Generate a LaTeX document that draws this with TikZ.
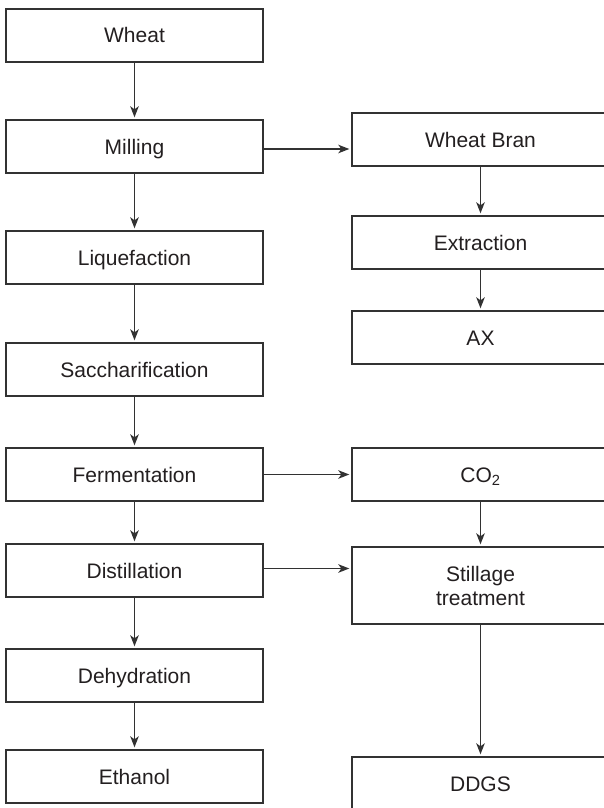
\documentclass[tikz,border=0pt]{standalone}
\usepackage{fontspec}
\setmainfont{Liberation Sans}
\usetikzlibrary{arrows.meta}
\definecolor{ink}{RGB}{35,31,32}
\definecolor{rule}{RGB}{50,50,50}
\begin{document}
\begin{tikzpicture}[x=1pt,y=-1pt,
  box/.style={draw=rule, line width=1.4pt, fill=white, minimum width=257pt,
    minimum height=53pt, inner sep=0pt, text=ink,
    font=\fontsize{21}{24}\selectfont, text height=15pt, text depth=0pt},
  tallbox/.style={draw=rule, line width=1.4pt, fill=white, minimum width=257pt,
    minimum height=77pt, inner sep=0pt, text=ink, align=center,
    font=\fontsize{21}{24}\selectfont},
  arr/.style={draw=rule, line width=1.4pt, shorten >=2pt,
    -{Stealth[length=11pt,width=8.5pt,inset=3pt]}}]
\useasboundingbox (0,0) rectangle (603,808);
\fill[white] (0,0) rectangle (603,808);

% main process line
\node[box] (wheat) at (134.5,35.5)  {Wheat};
\node[box] (mill)  at (134.5,146.5) {Milling};
\node[box] (liq)   at (134.5,257.5) {Liquefaction};
\node[box] (sacc)  at (134.5,369.5) {Saccharification};
\node[box] (ferm)  at (134.5,474.5) {Fermentation};
\node[box] (dist)  at (134.5,570.5) {Distillation};
\node[box] (dehy)  at (134.5,675.5) {Dehydration};
\node[box] (eth)   at (134.5,776.5) {Ethanol};

% co-products
\node[box] (bran)  at (480.5,139.5) {Wheat Bran};
\node[box] (extr)  at (480.5,242.5) {Extraction};
\node[box] (ax)    at (480.5,337.5) {AX};
\node[box] (co2)   at (480.5,474.5) {CO\textsubscript{2}};
\node[tallbox] (still) at (480.5,585.5) {Stillage\\treatment};
\node[box] (ddgs)  at (480.5,783.5) {DDGS};

% vertical flow
\draw[arr] (wheat) -- (mill);
\draw[arr] (mill) -- (liq);
\draw[arr] (liq) -- (sacc);
\draw[arr] (sacc) -- (ferm);
\draw[arr] (ferm) -- (dist);
\draw[arr] (dist) -- (dehy);
\draw[arr] (dehy) -- (eth);
\draw[arr] (bran) -- (extr);
\draw[arr] (extr) -- (ax);
\draw[arr] (co2) -- (still);
\draw[arr] (still) -- (ddgs);

% side streams
\draw[arr] ([yshift=-2.5pt]mill.east) -- ([yshift=-2.5pt]mill.east -| bran.west);
\draw[arr] (ferm.east) -- (ferm.east -| co2.west);
\draw[arr] ([yshift=2pt]dist.east) -- ([yshift=2pt]dist.east -| still.west);
\end{tikzpicture}
\end{document}
